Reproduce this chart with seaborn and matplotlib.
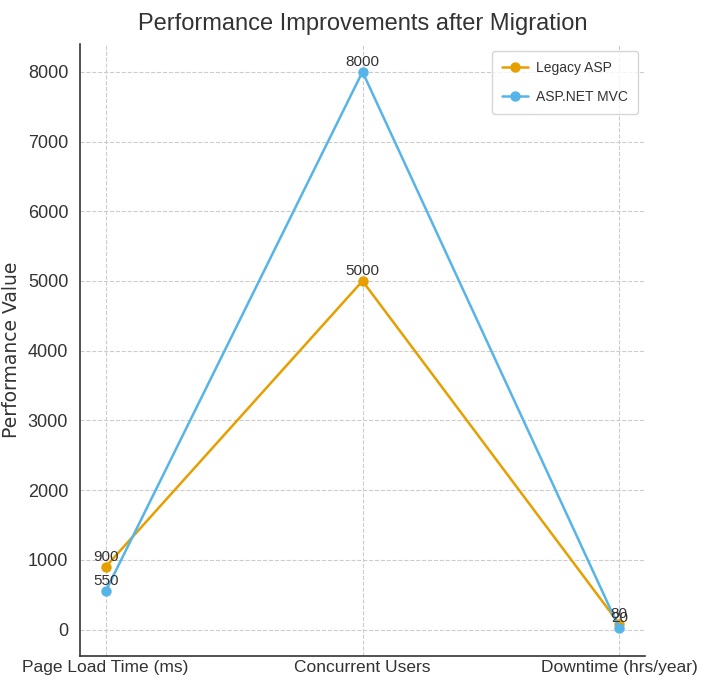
import matplotlib
matplotlib.use("Agg")
import matplotlib.pyplot as plt
import seaborn as sns
import pandas as pd

metrics = ["Page Load Time (ms)", "Concurrent Users", "Downtime (hrs/year)"]
legacy_asp = [900, 5000, 80]
aspnet_mvc = [550, 8000, 20]
series_names = ["Legacy ASP", "ASP.NET MVC"]
colors = ["#E69F00", "#56B4E9"]

df = pd.DataFrame({
    "Metric": metrics * 2,
    "Value": legacy_asp + aspnet_mvc,
    "System": [series_names[0]] * 3 + [series_names[1]] * 3,
})

sns.set_style("white")
plt.rcParams["font.family"] = ["Liberation Sans", "DejaVu Sans"]

fig = plt.figure(figsize=(7.15, 6.82), dpi=100)
ax = fig.add_axes([80/715, 1 - 656/682, 565/715, 612/682])

sns.lineplot(data=df, x="Metric", y="Value", hue="System", palette=colors,
             marker="o", markersize=7.5, markeredgewidth=0, linewidth=1.8,
             sort=False, ax=ax)

for name, vals in zip(series_names, [legacy_asp, aspnet_mvc]):
    for i, v in enumerate(vals):
        ax.annotate(str(v), (i, v), xytext=(0, 2), textcoords="offset points",
                    ha="center", va="bottom", fontsize=11, color="#333333")

ax.set_title("Performance Improvements after Migration", fontsize=17, color="#333333", pad=10)
ax.set_xlabel("")
ax.set_ylabel("Performance Value", fontsize=13.5, color="#333333", family="DejaVu Sans", labelpad=5)
ax.grid(True, linestyle="--", color="#cccccc", linewidth=0.8)
ax.set_axisbelow(True)
for s in ["top", "right"]:
    ax.spines[s].set_visible(False)
for s in ["left", "bottom"]:
    ax.spines[s].set_color("#333333")
    ax.spines[s].set_linewidth(1.2)
ax.tick_params(axis="y", direction="out", labelsize=13, colors="#333333", length=5)
ax.tick_params(axis="x", direction="in", labelsize=12.5, colors="#333333", length=6, pad=3)
ax.set_yticks([0, 1000, 2000, 3000, 4000, 5000, 6000, 7000, 8000])

leg = ax.legend(loc="upper right", fontsize=10, frameon=True, fancybox=True,
                labelspacing=1.1, borderpad=0.7, handlelength=1.9,
                handletextpad=0.6, borderaxespad=0.5)
leg.get_frame().set_edgecolor("#cccccc")
for t in leg.get_texts():
    t.set_color("#333333")

fig.savefig("out.png", dpi=100)
